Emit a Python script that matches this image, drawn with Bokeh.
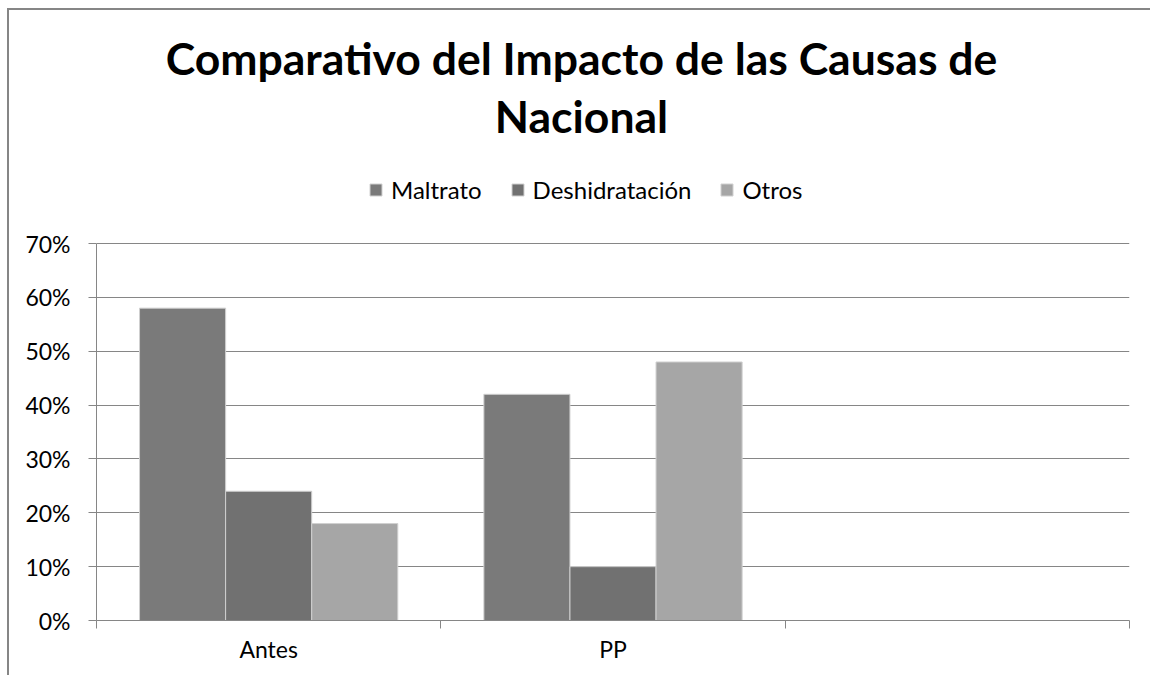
from bokeh.plotting import figure
from bokeh.models import (ColumnDataSource, Range1d, FixedTicker, PrintfTickFormatter,
                          Legend, LegendItem, Label, Grid, LinearAxis)
from bokeh.embed import file_html
from bokeh.resources import INLINE

# ---- data ----
categories = ["Antes", "PP", ""]
series_names = ["Maltrato", "Deshidratación", "Otros"]
maltrato = [58, 42]
deshidratacion = [24, 10]
otros = [18, 48]
y_ticks = [0, 10, 20, 30, 40, 50, 60, 70]
title_lines = ["Comparativo del Impacto de las Causas de", "Nacional"]

colors = ["#7a7a7a", "#717171", "#a6a6a6"]
series_values = [maltrato, deshidratacion, otros]
offsets = [-0.25, 0.0, 0.25]
bar_w = 0.25

FONT = "Lato"
GRAY = "#868686"

# layout: the frame reaches the top of the canvas so that the title and legend
# (drawn as annotations) are not clipped; the value axis occupies the lower 377 px
W, H = 1143, 667
BORDER_L, BORDER_R, BORDER_B = 87, 23, 57
FRAME_H = H - BORDER_B
AXIS_PX = 377
y_max = y_ticks[-1] * FRAME_H / AXIS_PX

p = figure(width=W, height=H,
           x_range=Range1d(0, len(categories)), y_range=Range1d(0, y_max),
           output_backend="svg", toolbar_location=None,
           min_border_left=BORDER_L, min_border_right=BORDER_R,
           min_border_top=0, min_border_bottom=BORDER_B,
           x_axis_type=None, y_axis_type=None)
p.styles = {"border-left": "2px solid #868686", "border-top": "2px solid #868686",
            "margin-left": "7px", "margin-top": "8px"}
p.outline_line_color = None
p.background_fill_color = "white"
p.border_fill_color = "white"

# x axis: labels at category centres, tick marks at boundaries (minor ticks)
xaxis = LinearAxis(
    ticker=FixedTicker(ticks=[i + 0.5 for i in range(len(categories))],
                       minor_ticks=list(range(len(categories) + 1))),
    major_label_overrides={i + 0.5: c for i, c in enumerate(categories)},
)
xaxis.axis_line_color = GRAY
xaxis.major_tick_line_color = None
xaxis.major_tick_out = 8
xaxis.major_tick_in = 0
xaxis.minor_tick_line_color = GRAY
xaxis.minor_tick_out = 8
xaxis.minor_tick_in = 0
xaxis.major_label_standoff = 6
xaxis.major_label_text_font = FONT
xaxis.major_label_text_font_size = "23px"
xaxis.major_label_text_color = "black"
p.add_layout(xaxis, "below")

yticker = FixedTicker(ticks=y_ticks, minor_ticks=[])
yaxis = LinearAxis(ticker=yticker, formatter=PrintfTickFormatter(format="%d%%"),
                   bounds=(y_ticks[0], y_ticks[-1]))
yaxis.axis_line_color = GRAY
yaxis.major_tick_line_color = GRAY
yaxis.major_tick_out = 8
yaxis.major_tick_in = 0
yaxis.minor_tick_line_color = None
yaxis.major_label_standoff = 18
yaxis.major_label_text_font = FONT
yaxis.major_label_text_font_size = "23px"
yaxis.major_label_text_color = "black"
p.add_layout(yaxis, "left")

p.add_layout(Grid(dimension=1, ticker=yticker, grid_line_color=GRAY, grid_line_width=1,
                  level="underlay"))

items = []
for name, vals, col, off in zip(series_names, series_values, colors, offsets):
    src = ColumnDataSource(dict(x=[i + 0.5 + off for i in range(len(vals))], top=vals))
    r = p.vbar(x="x", top="top", width=bar_w, bottom=0, source=src,
               fill_color=col, line_color="#d0d0d0", line_width=1)
    items.append(LegendItem(label=name, renderers=[r]))

legend = Legend(items=items, orientation="horizontal", location=(272, 416),
                glyph_width=15, glyph_height=15, label_standoff=8, spacing=28,
                padding=0, margin=0, border_line_color=None,
                background_fill_alpha=0,
                label_text_font=FONT, label_text_font_size="24px",
                label_text_color="black")
p.add_layout(legend)

for txt, y in zip(title_lines, [563, 505]):
    p.add_layout(Label(x=485, y=y, x_units="screen", y_units="screen", text=txt,
                       text_align="center", text_baseline="alphabetic",
                       text_font=FONT, text_font_style="bold",
                       text_font_size="44.5px", text_color="black"))

open("out.html", "w").write(file_html(p, INLINE))
